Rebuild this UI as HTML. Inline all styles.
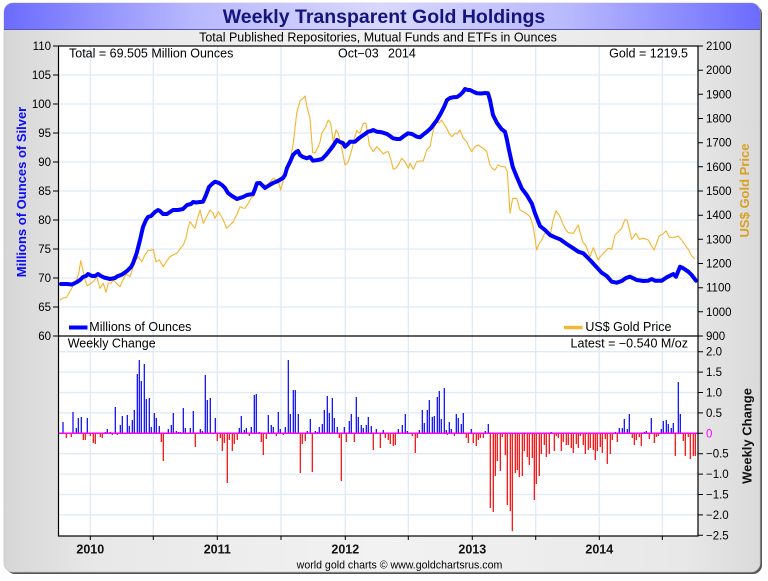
<!DOCTYPE html>
<html><head><meta charset="utf-8"><style>
html,body{margin:0;padding:0;background:#fff;}
svg{display:block;font-family:"Liberation Sans",Arial,sans-serif;}
</style></head><body>
<svg width="768" height="581" viewBox="0 0 768 581" xmlns="http://www.w3.org/2000/svg">
<defs>
<linearGradient id="bg" x1="0" y1="0" x2="1" y2="0">
<stop offset="0" stop-color="#d6d6d6"/><stop offset="0.12" stop-color="#e8e8e8"/><stop offset="0.5" stop-color="#f2f2f2"/><stop offset="0.9" stop-color="#e8e8e8"/><stop offset="1" stop-color="#dadada"/>
</linearGradient>
<linearGradient id="tb" x1="0" y1="0" x2="1" y2="0">
<stop offset="0" stop-color="#6b6bff"/><stop offset="0.25" stop-color="#b8b8ff"/><stop offset="0.5" stop-color="#d8d8ff"/><stop offset="0.75" stop-color="#b8b8ff"/><stop offset="1" stop-color="#6b6bff"/>
</linearGradient>
<clipPath id="fc"><rect x="4" y="3" width="756" height="569" rx="9"/></clipPath>
</defs>
<!-- frame -->
<rect x="6" y="5" width="756" height="569" rx="9" fill="#555"/>
<rect x="4" y="3" width="756" height="569" rx="9" fill="url(#bg)" stroke="#c8c8c8" stroke-width="0.8"/>
<g clip-path="url(#fc)">
<rect x="4" y="3" width="756" height="26" fill="url(#tb)"/>
<line x1="4" y1="29.5" x2="760" y2="29.5" stroke="#5a5ab0" stroke-width="1"/>
</g>
<text x="384" y="23" text-anchor="middle" font-size="19.5" font-weight="bold" fill="#14147a">Weekly Transparent Gold Holdings</text>
<text x="378" y="41.5" text-anchor="middle" font-size="12.5" fill="#000">Total Published Repositories, Mutual Funds and ETFs in Ounces</text>

<!-- plot background -->
<rect x="58.5" y="46" width="639.5" height="490" fill="#fff"/>
<!-- grid -->
<g stroke="#deeaf6" stroke-width="1.3">
<line x1="90.3" y1="46" x2="90.3" y2="536"/><line x1="153.3" y1="46" x2="153.3" y2="536"/><line x1="217.3" y1="46" x2="217.3" y2="536"/><line x1="281" y1="46" x2="281" y2="536"/><line x1="345.3" y1="46" x2="345.3" y2="536"/><line x1="408.3" y1="46" x2="408.3" y2="536"/><line x1="472.3" y1="46" x2="472.3" y2="536"/><line x1="535.7" y1="46" x2="535.7" y2="536"/><line x1="599.3" y1="46" x2="599.3" y2="536"/><line x1="662.3" y1="46" x2="662.3" y2="536"/>
<line x1="58" y1="75" x2="698" y2="75"/><line x1="58" y1="104" x2="698" y2="104"/><line x1="58" y1="133" x2="698" y2="133"/><line x1="58" y1="162" x2="698" y2="162"/><line x1="58" y1="191" x2="698" y2="191"/><line x1="58" y1="220" x2="698" y2="220"/><line x1="58" y1="249" x2="698" y2="249"/><line x1="58" y1="278" x2="698" y2="278"/><line x1="58" y1="307" x2="698" y2="307"/>
<line x1="58" y1="351.7" x2="698" y2="351.7"/><line x1="58" y1="372.1" x2="698" y2="372.1"/><line x1="58" y1="392.5" x2="698" y2="392.5"/><line x1="58" y1="412.9" x2="698" y2="412.9"/><line x1="58" y1="453.7" x2="698" y2="453.7"/><line x1="58" y1="474.1" x2="698" y2="474.1"/><line x1="58" y1="494.5" x2="698" y2="494.5"/><line x1="58" y1="514.9" x2="698" y2="514.9"/>
</g>

<!-- gold price -->
<polyline fill="none" stroke="#f5b52c" stroke-width="1.1" stroke-linejoin="round" points="60,300 63,298 66.7,297.3 69,293 71.7,288.3 74,284 76.7,279.3 79,272 80.7,260.7 83.3,271.7 85,280 87.3,285.7 90,284 93.3,281.7 96.7,276.7 100,288.3 103.3,283.3 106,292.3 108.3,283.3 111,283 113.3,280 117,284 120,286.7 123,280 126,274 130,276.7 133.3,266.7 136,260 138.3,256.7 141.7,261.7 145,255 148.3,250 150,250.5 153.3,249.3 156,261.7 159.3,260 163.3,266.7 166,262 170,256.7 173,255 176.7,253.3 180,249 183.3,245 186,238 188,228 190,221.7 193,226 195,228.3 197,220 200,210 203.3,223.3 206,218 210,210 213,213 215,218.3 218.3,211.7 221,216 223.3,220 226.7,228.3 230,225 233.3,221.7 237,214 240,206.7 243,208 245,208.3 248.3,203.3 251,198 253.3,196.7 256.7,186.7 260,181.7 263,184 266.7,186 270,182 273.3,178.3 276,180 278.3,181.7 280.7,190 283.3,180 286.7,170 290,160 293.3,143.3 296.7,113.3 300,100.7 303.3,98.3 305,96 307.3,108.3 310,118.3 312.7,152.7 315,152.7 318.3,146.7 320,142 321.7,133.3 325,128.3 328.3,120 330.7,123.3 333.3,141.7 336,130 338.3,133.3 341.7,148.3 345,165 348.3,161.7 351.7,150 354,140 356.7,130.7 360,133.3 363.3,123.3 366,123.3 369.3,145 373.3,151.7 376.7,146.7 380,150 383.3,154 386,152 388.3,151.7 391,160 393.3,169.3 396,168 398.3,165 401.7,158.3 405,161.7 408.3,168.3 410,163.3 413.3,169.3 416.7,161.7 420,161 423.3,161 426.7,150 430,146.7 433.3,130 436.7,121.7 439,123 441.7,120 444,124 446.7,128.3 449,133 451.7,136.7 455,133.3 457,134 460,130 463.3,138.3 466.7,141.7 469,147 471.7,151.7 475,146.7 478.3,145 481,147 483.3,148.3 486.7,151.7 490,165 492,168 495,170 498.3,165 501.7,166.7 505,166.7 507.3,171.7 510,213.3 512.7,198.3 516.7,198.3 520,210 523.3,211.7 527,214 530,216.7 533.3,226.7 536.7,250 539,244 541.7,240 544,235 546.7,230 550,236.7 552.7,221.7 556,210.7 560,216.7 563.3,225 566,230 568.3,232.7 573.3,233.3 578.3,225 580,232 582.7,241.7 586,246 590,256.7 593.3,247.7 598.3,260 600,257 603.3,253.3 608.3,248.3 611.7,249.3 615,235 618,232 621.7,228.3 625,219.3 627.3,220.7 631.7,239.3 636,233.3 639.3,239.3 643.3,238.3 648.3,240 651,245 654,250 659.3,236 663,234 666,230.7 669.3,237.3 675,237.3 678.3,236 681.7,240 685,245 688.3,249.3 691.7,256 695,259"/>
<!-- silver holdings -->
<polyline fill="none" stroke="#0000ff" stroke-width="4" stroke-linejoin="round" stroke-linecap="round" points="61,284 67,284 72,284.5 77,282 80,280 83,277 86,276 88,274 92,276 95,276 98,274 101,276 104,277.5 110,279 115,278 117,276.5 122,274.5 127,271 131,267 133,263.3 136.7,253 140,240 143,227 146,220 148,217 151,216 155,212 158,210 160,211 163,214 167,214 170,212 173,210 178,210 183,209 187,205 191,204 193,202 196,202.5 200,202 203,201.7 206,195 209,187 212,184 215,181.7 219,183 222,185 225,188 228,193 232,196 237,199 240,198 243,197 247,195 253,194 255,189 257,183.3 260,183 263,186 265,188 268,186 273,183 278,181 283,178 285,175 287,168 290,162 293,155 296,152 298,151 300,155 303,157 306.7,158.3 310,157 313,160.7 318,160 322,159 326,155 330,150 333,146 337,140 340,142 343,143 345,146.7 348,144 350,141.7 355,141.7 358,139 361,136.7 365,134 368,131.7 371,131 373.3,130 376.7,131.7 380,132 383,132.7 387,134 390,136 393,138.3 397,139 400,139 404,136 408,133.3 412,134 416.7,136.7 420,137.3 424,134 427,131.7 431,128 434,124 437,120 441,113 444,107 447,100 450,98 453,97.3 457,97 460,95 463,92 465,89 468,90 470,90 474,92 477,93.3 481,93.5 485,93 488,93.3 490,100 493,115 497,123 501.7,129.3 505,131.7 507,140 509,150 512.7,166.7 516.7,176.7 521.7,188.3 526.7,195 531.7,203.3 535,213.3 540,226 545,230 550,235 555,237.3 560,239.3 566.7,244 573.3,248.3 578.3,251.7 583.3,253.3 590,260 596.7,267.3 601.7,272.7 606.7,276 611.7,281.7 616.7,282.7 621.7,281 626,278 630,276.7 636.7,280 643.3,281 648.3,280.7 651.7,279 655,280.7 661.7,280.7 666.7,277.3 673.3,274 676,276.7 680,266.7 683.3,268.3 688.3,271.7 691.7,275 696,280.7"/>

<!-- weekly change bars -->
<path fill="none" stroke="#0000ff" stroke-width="1.2" d="M63,433.3v-11.3M73,433.3v-21.3M76.3,433.3v-5.3M78.3,433.3v-15.3M81.3,433.3v-16.3M87.3,433.3v-15.3M105.3,433.3v-1.3M107.3,433.3v-4.3M110.3,433.3v-1.3M115.3,433.3v-26.3M120.3,433.3v-8.3M122.3,433.3v-17.3M127.3,433.3v-18.3M129.3,433.3v-7.3M132.3,433.3v-13.3M134.3,433.3v-23.3M137.3,433.3v-59.3M139.3,433.3v-73.3M141.3,433.3v-52.3M144.3,433.3v-69.3M146.3,433.3v-34.3M149.3,433.3v-35.3M151.3,433.3v-6.3M154.3,433.3v-20.3M156.3,433.3v-15.3M159.3,433.3v-7.3M168.3,433.3v-4.3M171.3,433.3v-8.3M173.3,433.3v-20.3M176.3,433.3v-2.3M178.3,433.3v-1.3M180.3,433.3v-1.3M183.3,433.3v-25.3M185.3,433.3v-5.3M190.3,433.3v-5.3M193.3,433.3v-22.3M200.3,433.3v-4.3M202.3,433.3v-2.3M205.3,433.3v-58.3M207.3,433.3v-33.3M210.3,433.3v-35.3M215.3,433.3v-15.3M239.3,433.3v-5.3M241.3,433.3v-17.3M244.3,433.3v-3.3M246.3,433.3v-5.3M251.3,433.3v-6.3M254.3,433.3v-38.3M256.3,433.3v-39.3M259.3,433.3v-1.3M268.3,433.3v-18.3M271.3,433.3v-8.3M273.3,433.3v-6.3M278.3,433.3v-21.3M280.3,433.3v-4.3M285.3,433.3v-6.3M288.3,433.3v-73.3M290.3,433.3v-19.3M293.3,433.3v-43.3M295.3,433.3v-43.3M298.3,433.3v-19.3M307.3,433.3v-2.3M310.3,433.3v-14.3M315.3,433.3v-2.3M317.3,433.3v-1.3M319.3,433.3v-6.3M322.3,433.3v-9.3M324.3,433.3v-23.3M327.3,433.3v-37.3M329.3,433.3v-20.3M332.3,433.3v-35.3M334.3,433.3v-15.3M337.3,433.3v-6.3M344.3,433.3v-6.3M349.3,433.3v-12.3M351.3,433.3v-19.3M356.3,433.3v-36.3M358.3,433.3v-16.3M361.3,433.3v-8.3M363.3,433.3v-5.3M366.3,433.3v-8.3M368.3,433.3v-16.3M371.3,433.3v-7.3M376.3,433.3v-4.3M383.3,433.3v-3.3M398.3,433.3v-4.3M402.3,433.3v-8.3M405.3,433.3v-19.3M407.3,433.3v-2.3M419.3,433.3v-3.3M422.3,433.3v-23.3M424.3,433.3v-10.3M427.3,433.3v-23.3M429.3,433.3v-33.3M432.3,433.3v-16.3M434.3,433.3v-17.3M437.3,433.3v-36.3M439.3,433.3v-42.3M441.3,433.3v-14.3M444.3,433.3v-45.3M446.3,433.3v-3.3M449.3,433.3v-11.3M451.3,433.3v-4.3M456.3,433.3v-19.3M458.3,433.3v-15.3M461.3,433.3v-9.3M463.3,433.3v-20.3M471.3,433.3v-4.3M485.3,433.3v-2.3M488.3,433.3v-9.3M551.3,433.3v-1.3M615.3,433.3v-1.3M619.3,433.3v-5.3M622.3,433.3v-5.3M624.3,433.3v-14.3M627.3,433.3v-4.3M629.3,433.3v-19.3M644.3,433.3v-1.3M646.3,433.3v-2.3M651.3,433.3v-15.3M661.3,433.3v-4.3M663.3,433.3v-12.3M666.3,433.3v-13.3M668.3,433.3v-9.3M671.3,433.3v-5.3M673.3,433.3v-10.3M678.3,433.3v-51.3M680.3,433.3v-19.3"/>
<path fill="none" stroke="#ff0000" stroke-width="1.2" d="M66.3,433.3v4.7M71.3,433.3v3.7M83.3,433.3v6.7M85.3,433.3v6.7M90.3,433.3v2.7M93.3,433.3v9.7M95.3,433.3v10.7M100.3,433.3v3.7M102.3,433.3v4.7M112.3,433.3v1.7M117.3,433.3v1.7M161.3,433.3v8.7M163.3,433.3v27.7M195.3,433.3v13.7M217.3,433.3v7.7M220.3,433.3v4.7M222.3,433.3v17.7M224.3,433.3v9.7M227.3,433.3v49.7M229.3,433.3v6.7M232.3,433.3v17.7M234.3,433.3v10.7M237.3,433.3v6.7M249.3,433.3v2.7M261.3,433.3v8.7M263.3,433.3v21.7M266.3,433.3v5.7M276.3,433.3v2.7M283.3,433.3v1.7M300.3,433.3v39.7M302.3,433.3v10.7M305.3,433.3v7.7M312.3,433.3v38.7M339.3,433.3v4.7M341.3,433.3v47.7M346.3,433.3v8.7M354.3,433.3v8.7M373.3,433.3v16.7M380.3,433.3v14.7M385.3,433.3v4.7M388.3,433.3v6.7M390.3,433.3v10.7M393.3,433.3v12.7M395.3,433.3v11.7M412.3,433.3v2.7M415.3,433.3v19.7M417.3,433.3v4.7M447.3,433.3v1.7M454.3,433.3v2.7M466.3,433.3v4.7M468.3,433.3v9.7M473.3,433.3v9.7M476.3,433.3v12.7M478.3,433.3v6.7M480.3,433.3v4.7M483.3,433.3v4.7M490.3,433.3v74.7M493.3,433.3v78.7M495.3,433.3v42.7M497.3,433.3v27.7M500.3,433.3v37.7M502.3,433.3v3.7M505.3,433.3v21.7M507.3,433.3v71.7M510.3,433.3v77.7M512.3,433.3v97.7M515.3,433.3v39.7M517.3,433.3v36.7M519.3,433.3v43.7M522.3,433.3v42.7M524.3,433.3v17.7M527.3,433.3v23.7M529.3,433.3v31.7M532.3,433.3v24.7M534.3,433.3v66.7M536.3,433.3v50.7M539.3,433.3v42.7M541.3,433.3v20.7M544.3,433.3v11.7M546.3,433.3v23.7M549.3,433.3v20.7M554.3,433.3v17.7M556.3,433.3v2.7M558.3,433.3v4.7M561.3,433.3v17.7M563.3,433.3v8.7M566.3,433.3v11.7M568.3,433.3v11.7M571.3,433.3v14.7M573.3,433.3v19.7M576.3,433.3v10.7M578.3,433.3v14.7M580.3,433.3v2.7M583.3,433.3v11.7M585.3,433.3v20.7M588.3,433.3v16.7M590.3,433.3v14.7M593.3,433.3v16.7M595.3,433.3v26.7M597.3,433.3v17.7M600.3,433.3v13.7M602.3,433.3v19.7M605.3,433.3v5.7M607.3,433.3v30.7M610.3,433.3v20.7M612.3,433.3v6.7M617.3,433.3v8.7M632.3,433.3v4.7M634.3,433.3v11.7M636.3,433.3v6.7M639.3,433.3v3.7M641.3,433.3v12.7M649.3,433.3v5.7M654.3,433.3v9.7M656.3,433.3v3.7M658.3,433.3v2.7M675.3,433.3v22.7M683.3,433.3v7.7M685.3,433.3v22.7M688.3,433.3v3.7M690.3,433.3v25.7M693.3,433.3v22.7M695.3,433.3v22.7"/>
<line x1="58.5" y1="433.3" x2="698" y2="433.3" stroke="#ff00ff" stroke-width="1.5"/>

<!-- axes box -->
<g stroke="#000" stroke-width="1.2" fill="none">
<rect x="58.5" y="46" width="639.5" height="490"/>
<line x1="58.5" y1="336" x2="698" y2="336"/>
</g>
<!-- ticks -->
<g stroke="#000" stroke-width="1">
<path d="M53,46H58.5M53,75H58.5M53,104H58.5M53,133H58.5M53,162H58.5M53,191H58.5M53,220H58.5M53,249H58.5M53,278H58.5M53,307H58.5M53,336H58.5"/>
<path d="M698,46h5M698,70.2h5M698,94.3h5M698,118.5h5M698,142.7h5M698,166.8h5M698,191h5M698,215.2h5M698,239.3h5M698,263.5h5M698,287.7h5M698,311.8h5M698,336h5"/>
<path d="M698,351.7h5M698,372.1h5M698,392.5h5M698,412.9h5M698,433.3h5M698,453.7h5M698,474.1h5M698,494.5h5M698,514.9h5M698,535.3h5"/>
<path d="M90.3,536v4M153.3,536v4M217.3,536v4M281,536v4M345.3,536v4M408.3,536v4M472.3,536v4M535.7,536v4M599.3,536v4M662.3,536v4"/>
</g>
<!-- left labels -->
<g font-size="11.5" fill="#000" text-anchor="end">
<text x="51" y="50">110</text><text x="51" y="79">105</text><text x="51" y="108">100</text><text x="51" y="137">95</text><text x="51" y="166">90</text><text x="51" y="195">85</text><text x="51" y="224">80</text><text x="51" y="253">75</text><text x="51" y="282">70</text><text x="51" y="311">65</text><text x="51" y="340">60</text>
</g>
<!-- right labels -->
<g font-size="11.5" fill="#000">
<text x="706" y="50">2100</text><text x="706" y="74.2">2000</text><text x="706" y="98.3">1900</text><text x="706" y="122.5">1800</text><text x="706" y="146.7">1700</text><text x="706" y="170.8">1600</text><text x="706" y="195">1500</text><text x="706" y="219.2">1400</text><text x="706" y="243.3">1300</text><text x="706" y="267.5">1200</text><text x="706" y="291.7">1100</text><text x="706" y="315.8">1000</text><text x="706" y="340">900</text>
<text x="706" y="355.7">2.0</text><text x="706" y="376.1">1.5</text><text x="706" y="396.5">1.0</text><text x="706" y="416.9">0.5</text><text x="706" y="437.3" fill="#ff00ff">0</text><text x="706" y="457.7">−0.5</text><text x="706" y="478.1">−1.0</text><text x="706" y="498.5">−1.5</text><text x="706" y="518.9">−2.0</text><text x="706" y="539.3">−2.5</text>
</g>
<!-- year labels -->
<g font-size="12.5" font-weight="bold" fill="#111" text-anchor="middle">
<text x="90.3" y="553.5">2010</text><text x="217.3" y="553.5">2011</text><text x="345.3" y="553.5">2012</text><text x="472.3" y="553.5">2013</text><text x="599.3" y="553.5">2014</text>
</g>
<!-- axis titles -->
<text transform="translate(26,192) rotate(-90)" text-anchor="middle" font-size="13" font-weight="bold" fill="#0a0aff">Millions of Ounces of Silver</text>
<text transform="translate(749,190.5) rotate(-90)" text-anchor="middle" font-size="13" font-weight="bold" fill="#d9a021">US$ Gold Price</text>
<text transform="translate(751.5,436) rotate(-90)" text-anchor="middle" font-size="13" font-weight="bold" fill="#111">Weekly Change</text>
<!-- in-plot text -->
<g font-size="12.5" fill="#000">
<text x="69" y="57.3">Total = 69.505 Million Ounces</text>
<text x="338" y="57.3">Oct−03</text><text x="388" y="57.3">2014</text>
<text x="688" y="57.3" text-anchor="end">Gold = 1219.5</text>
<text x="89.3" y="331">Millions of Ounces</text>
<text x="671.5" y="331" text-anchor="end">US$ Gold Price</text>
<text x="67.7" y="347.5">Weekly Change</text>
<text x="688" y="347.5" text-anchor="end">Latest = −0.540 M/oz</text>
</g>
<rect x="69" y="325.5" width="18.5" height="4" fill="#0000ff"/>
<rect x="564" y="325.8" width="18.5" height="3.4" fill="#f5b82e"/>
<text x="399.5" y="568.3" text-anchor="middle" font-size="10.6" fill="#000">world gold charts © www.goldchartsrus.com</text>
</svg>
</body></html>
